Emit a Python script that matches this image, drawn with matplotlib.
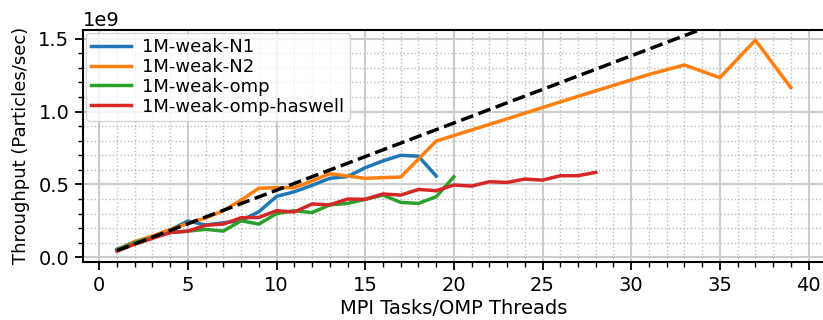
import matplotlib
matplotlib.use("Agg")
import matplotlib.pyplot as plt
from matplotlib.ticker import MultipleLocator

# readings (throughput in particles/sec)
n1_x = list(range(1, 20))
n1_y = [0.055, 0.107, 0.142, 0.188, 0.249, 0.222, 0.237, 0.252, 0.313, 0.418,
        0.45, 0.494, 0.542, 0.554, 0.615, 0.662, 0.70, 0.694, 0.558]

n2_x = list(range(1, 18)) + list(range(19, 40, 2))
n2_y = [0.05, 0.107, 0.146, 0.19, 0.233, 0.27, 0.32, 0.393, 0.474, 0.478,
        0.478, 0.524, 0.574, 0.558, 0.542, 0.547, 0.551,
        0.798, 0.874, 0.95, 1.028, 1.105, 1.18, 1.255, 1.32, 1.233, 1.49, 1.165]

omp_x = list(range(1, 21))
omp_y = [0.05, 0.10, 0.137, 0.17, 0.18, 0.192, 0.18, 0.251, 0.228, 0.30,
         0.32, 0.307, 0.36, 0.37, 0.398, 0.427, 0.377, 0.37, 0.416, 0.553]

has_x = list(range(1, 29))
has_y = [0.043, 0.09, 0.13, 0.17, 0.18, 0.22, 0.228, 0.272, 0.274, 0.32,
         0.311, 0.366, 0.36, 0.40, 0.398, 0.435, 0.427, 0.466, 0.457, 0.496,
         0.489, 0.519, 0.514, 0.537, 0.53, 0.56, 0.56, 0.583]

ideal_per_task = 0.0461  # 1e9 particles/sec per task
ideal_x = [1, 39]

scale = 1e9

fig = plt.figure(figsize=(8.23, 3.2), dpi=100)
ax = fig.add_axes([83.3 / 823, 1 - 261.7 / 320, (824.5 - 83.3) / 823, (261.7 - 30) / 320])

lw = 2.5
ax.plot(n1_x, [v * scale for v in n1_y], color="tab:blue", lw=lw, label="1M-weak-N1")
ax.plot(n2_x, [v * scale for v in n2_y], color="tab:orange", lw=lw, label="1M-weak-N2")
ax.plot(omp_x, [v * scale for v in omp_y], color="tab:green", lw=lw, label="1M-weak-omp")
ax.plot(has_x, [v * scale for v in has_y], color="tab:red", lw=lw, label="1M-weak-omp-haswell")
ax.plot(ideal_x, [x * ideal_per_task * scale for x in ideal_x], "k--", lw=lw)

ax.set_xlim(-0.9, 40.9)
ax.set_ylim(-0.03e9, 1.56e9)

ax.xaxis.set_major_locator(MultipleLocator(5))
ax.xaxis.set_minor_locator(MultipleLocator(1))
ax.yaxis.set_major_locator(MultipleLocator(0.5e9))
ax.yaxis.set_minor_locator(MultipleLocator(0.1e9))

ax.grid(True, which="major", color="#cccccc", lw=1.5, ls="-")
ax.grid(True, which="minor", color="#bbbbbb", lw=1.0, ls=":")
ax.set_axisbelow(True)

ax.tick_params(which="major", direction="out", length=6, width=1.3, labelsize=14, pad=4)
ax.tick_params(which="minor", direction="out", length=3.5, width=1.0)
for s in ax.spines.values():
    s.set_linewidth(1.5)
    s.set_color("black")

ax.yaxis.get_offset_text().set_fontsize(14)
ax.set_xlabel("MPI Tasks/OMP Threads", fontsize=14, labelpad=3)
ax.set_ylabel("Throughput (Particles/sec)", fontsize=13, labelpad=6)

ax.legend(loc="upper left", fontsize=13, labelspacing=0.1, handlelength=2.2,
          borderaxespad=0.15, borderpad=0.3, handletextpad=0.6, framealpha=0.8)

fig.savefig("out.png", dpi=100)
